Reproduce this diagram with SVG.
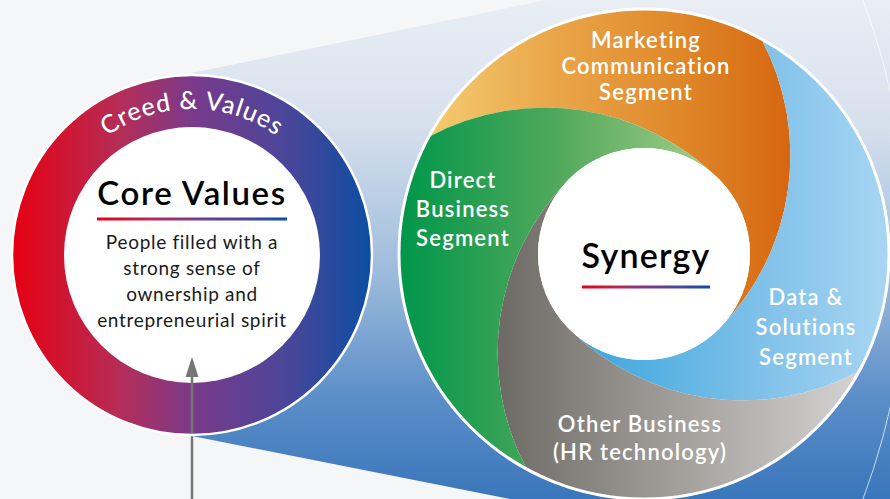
<svg xmlns="http://www.w3.org/2000/svg" xmlns:xlink="http://www.w3.org/1999/xlink" width="890" height="499" viewBox="0 0 890 499">
  <style>
    .seg { font-family: Lato, "Open Sans", "DejaVu Sans", sans-serif; font-weight: 600; font-size: 22px; letter-spacing: 1.2px; fill: #ffffff; text-anchor: middle; }
    .body { font-family: Lato, "Open Sans", "DejaVu Sans", sans-serif; font-weight: 400; font-size: 19px; letter-spacing: 0.7px; fill: #1a1a1a; text-anchor: middle; }
    .title { font-family: Lato, "Open Sans", "DejaVu Sans", sans-serif; font-weight: 600; fill: #000000; text-anchor: middle; }
  </style>
  <defs>
    <linearGradient id="fan" x1="0" y1="0" x2="0" y2="499" gradientUnits="userSpaceOnUse">
      <stop offset="0" stop-color="#e9eef5"/>
      <stop offset="0.25" stop-color="#d6e0ed"/>
      <stop offset="0.55" stop-color="#9dbbdc"/>
      <stop offset="0.8" stop-color="#5a8ec8"/>
      <stop offset="1" stop-color="#3a76bb"/>
    </linearGradient>
    <linearGradient id="rainbow" x1="0" y1="0" x2="1" y2="0">
      <stop offset="0" stop-color="#e60012"/>
      <stop offset="0.3" stop-color="#b52d57"/>
      <stop offset="0.5" stop-color="#7a3a8b"/>
      <stop offset="0.75" stop-color="#4d4598"/>
      <stop offset="1" stop-color="#0b4ea2"/>
    </linearGradient>
    <linearGradient id="gOrange" x1="429" y1="0" x2="800" y2="0" gradientUnits="userSpaceOnUse">
      <stop offset="0" stop-color="#f4cb70"/>
      <stop offset="0.35" stop-color="#e9a548"/>
      <stop offset="0.65" stop-color="#e08a2c"/>
      <stop offset="1" stop-color="#d5640e"/>
    </linearGradient>
    <linearGradient id="gGreen" x1="400" y1="0" x2="720" y2="0" gradientUnits="userSpaceOnUse">
      <stop offset="0" stop-color="#00964a"/>
      <stop offset="0.5" stop-color="#52a95c"/>
      <stop offset="1" stop-color="#a8d08c"/>
    </linearGradient>
    <linearGradient id="gBlue" x1="570" y1="0" x2="890" y2="0" gradientUnits="userSpaceOnUse">
      <stop offset="0" stop-color="#36a5dc"/>
      <stop offset="0.6" stop-color="#80c1e9"/>
      <stop offset="1" stop-color="#a8d6f3"/>
    </linearGradient>
    <linearGradient id="gGray" x1="500" y1="0" x2="870" y2="0" gradientUnits="userSpaceOnUse">
      <stop offset="0" stop-color="#6e6b67"/>
      <stop offset="0.4" stop-color="#9a9692"/>
      <stop offset="1" stop-color="#d8d7d5"/>
    </linearGradient>
    <path id="creedArc" d="M46,255 A146,146 0 0 1 338,255"/>
  </defs>

  <!-- page background -->
  <rect x="0" y="0" width="890" height="499" fill="#f5f6f7"/>

  <!-- widening band from the core circle toward the synergy wheel -->
  <polygon points="192,73 900,-73 900,520 616,520 192,436" fill="url(#fan)"/>
  <path d="M863,0 A716,716 0 0 1 863,499" fill="none" stroke="#ffffff" stroke-opacity="0.7" stroke-width="1"/>

  <!-- core values circle -->
  <g id="core-values">
    <circle cx="192" cy="255" r="180" fill="url(#rainbow)"/>
    <circle cx="192" cy="255" r="128" fill="#ffffff"/>
    <text font-family="Lato, 'Open Sans', 'DejaVu Sans', sans-serif" font-size="25" font-weight="500" fill="#ffffff" letter-spacing="1">
      <textPath xlink:href="#creedArc" href="#creedArc" startOffset="50%" text-anchor="middle">Creed &amp; Values</textPath>
    </text>
    <text class="title" x="192" y="205" font-size="33" letter-spacing="1.6">Core Values</text>
    <rect x="97" y="217.5" width="190" height="3" fill="url(#rainbow)"/>
    <text class="body" x="192" y="249">People filled with a</text>
    <text class="body" x="192" y="275">strong sense of</text>
    <text class="body" x="192" y="301">ownership and</text>
    <text class="body" x="192" y="327">entrepreneurial spirit</text>
  </g>

  <g id="connectors">
    <line x1="192" y1="499" x2="192" y2="372" stroke="#777672" stroke-width="2.5"/>
    <polygon points="192,357 185.5,377 198.5,377" fill="#777672"/>
  </g>
  <circle cx="192" cy="255" r="180" fill="none" stroke="#ffffff" stroke-width="2.5"/>

  <!-- synergy wheel -->
  <g id="synergy-wheel">
    <circle cx="644" cy="254" r="246" fill="#ffffff"/>
    <g id="marketing-communication">
      <path d="M428.9,136.7 A245,245 0 0 1 761.3,38.9 A247,247 0 0 1 719.6,328.3 A106,106 0 0 0 719.6,179.7 A247,247 0 0 0 428.9,136.7 Z" fill="url(#gOrange)"/>
      <text class="seg" x="646" y="48">Marketing</text>
      <text class="seg" x="646" y="74">Communication</text>
      <text class="seg" x="646" y="100">Segment</text>
    </g>
    <g id="data-solutions">
      <path d="M761.3,38.9 A245,245 0 0 1 859.1,371.3 A247,247 0 0 1 568.4,328.3 A106,106 0 0 0 719.6,328.3 A247,247 0 0 0 761.3,38.9 Z" fill="url(#gBlue)"/>
      <text class="seg" x="806" y="305">Data &amp;</text>
      <text class="seg" x="806" y="335">Solutions</text>
      <text class="seg" x="806" y="365">Segment</text>
    </g>
    <g id="other-business">
      <path d="M859.1,371.3 A245,245 0 0 1 526.7,469.1 A247,247 0 0 1 568.4,179.7 A106,106 0 0 0 568.4,328.3 A247,247 0 0 0 859.1,371.3 Z" fill="url(#gGray)"/>
      <text class="seg" x="640" y="432">Other Business</text>
      <text class="seg" x="640" y="460">(HR technology)</text>
    </g>
    <g id="direct-business">
      <path d="M526.7,469.1 A245,245 0 0 1 428.9,136.7 A247,247 0 0 1 719.6,179.7 A106,106 0 0 0 568.4,179.7 A247,247 0 0 0 526.7,469.1 Z" fill="url(#gGreen)"/>
      <text class="seg" x="463" y="188">Direct</text>
      <text class="seg" x="463" y="217">Business</text>
      <text class="seg" x="463" y="246">Segment</text>
    </g>
    <g id="synergy">
      <circle cx="644" cy="254" r="106" fill="#ffffff"/>
      <text class="title" x="646" y="268" font-size="34" letter-spacing="1.2">Synergy</text>
      <rect x="582" y="285.5" width="128" height="3" fill="url(#rainbow)"/>
    </g>
    <circle cx="644" cy="254" r="245" fill="none" stroke="#ffffff" stroke-width="3"/>
  </g>
</svg>
